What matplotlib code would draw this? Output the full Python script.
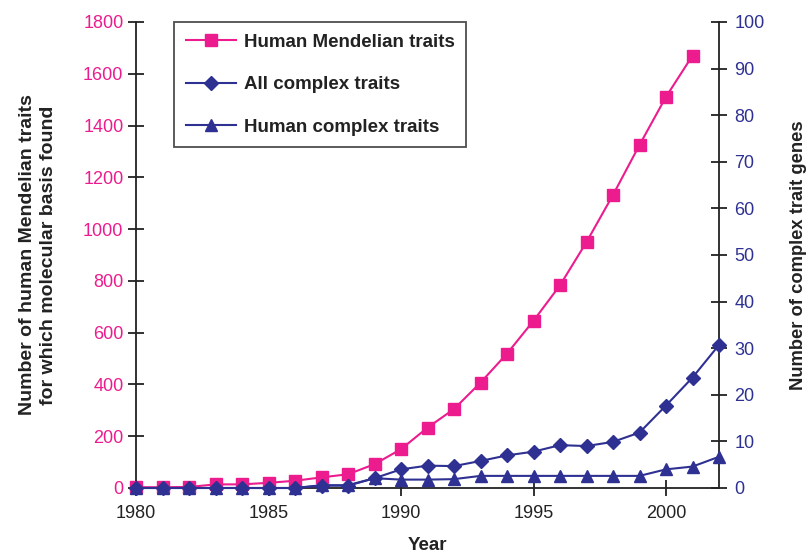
import matplotlib
matplotlib.use("Agg")
import matplotlib.pyplot as plt

plt.rcParams['font.family'] = ['Liberation Sans', 'DejaVu Sans']

years = list(range(1980, 2003))
mendelian = [3, 3, 4, 14, 14, 20, 28, 41, 53, 92, 150, 233, 305, 407, 519, 646, 783, 950, 1132, 1325, 1511, 1670]
all_complex = [0, 0, 0, 0, 0, 0, 0, 0.5, 0.5, 2.1, 4.0, 4.8, 4.7, 5.8, 7.0, 7.8, 9.2, 9.0, 9.9, 11.9, 17.7, 23.7, 30.7]
human_complex = [0, 0, 0, 0, 0, 0, 0, 0.6, 0.6, 2.1, 1.8, 1.8, 1.9, 2.6, 2.6, 2.6, 2.6, 2.6, 2.6, 2.6, 4.0, 4.6, 6.7]

x_ticks = [1980, 1985, 1990, 1995, 2000]
left_ticks = list(range(0, 1801, 200))
right_ticks = list(range(0, 101, 10))

PINK = '#EC1C8E'
NAVY = '#2E3192'

fig = plt.figure(figsize=(8.09, 5.57), dpi=100)
ax = fig.add_axes([136/809, 1-488/557, (719-136)/809, (488-22)/557])
ax2 = ax.twinx()

l1, = ax.plot(years[:len(mendelian)], mendelian, color=PINK, marker='s', markersize=8, lw=1.5,
              label='Human Mendelian traits', clip_on=False, zorder=3)
l2, = ax2.plot(years, all_complex, color=NAVY, marker='D', markersize=7.5, lw=1.5,
               label='All complex traits', clip_on=False, zorder=3)
l3, = ax2.plot(years, human_complex, color=NAVY, marker='^', markersize=9, lw=1.5,
               label='Human complex traits', clip_on=False, zorder=3)

ax.set_xlim(1980, 2002)
ax.set_ylim(0, 1800)
ax2.set_ylim(0, 100)
ax.set_xticks(x_ticks)
ax.set_yticks(left_ticks)
ax2.set_yticks(right_ticks)

for a in (ax, ax2):
    a.spines['top'].set_visible(False)
    for s in a.spines.values():
        s.set_linewidth(1.3)
        s.set_color('#222222')
ax.spines['right'].set_visible(False)
ax2.spines['left'].set_visible(False)
ax2.spines['bottom'].set_visible(False)

ax.tick_params(axis='x', direction='inout', length=12, width=1.3, labelsize=13, pad=6, colors='#222222')
ax.tick_params(axis='y', direction='inout', length=12, width=1.3, labelsize=13, pad=3, colors='#222222', labelcolor=PINK)
ax2.tick_params(axis='y', direction='inout', length=12, width=1.3, labelsize=13, pad=5, colors='#222222', labelcolor=NAVY)

ax.set_xlabel('Year', fontsize=13.5, fontweight='bold', labelpad=11, color='#222222')
ax.set_ylabel('Number of human Mendelian traits\nfor which molecular basis found', fontsize=14,
              fontweight='bold', labelpad=19, color='#222222', linespacing=1.25)
ax2.set_ylabel('Number of complex trait genes', fontsize=13.2, fontweight='bold', labelpad=18.5, color='#222222')

leg = ax.legend(handles=[l1, l2, l3], loc='upper left', bbox_to_anchor=(0.065, 1.0),
                fontsize=13.5, frameon=True, fancybox=False, edgecolor='#222222',
                handlelength=2.7, labelspacing=1.35, borderpad=0.62, handletextpad=0.4,
                borderaxespad=0)
leg.get_frame().set_linewidth(1.3)
for t in leg.get_texts():
    t.set_fontweight('bold')
    t.set_color('#222222')

fig.savefig('out.png', dpi=100)
